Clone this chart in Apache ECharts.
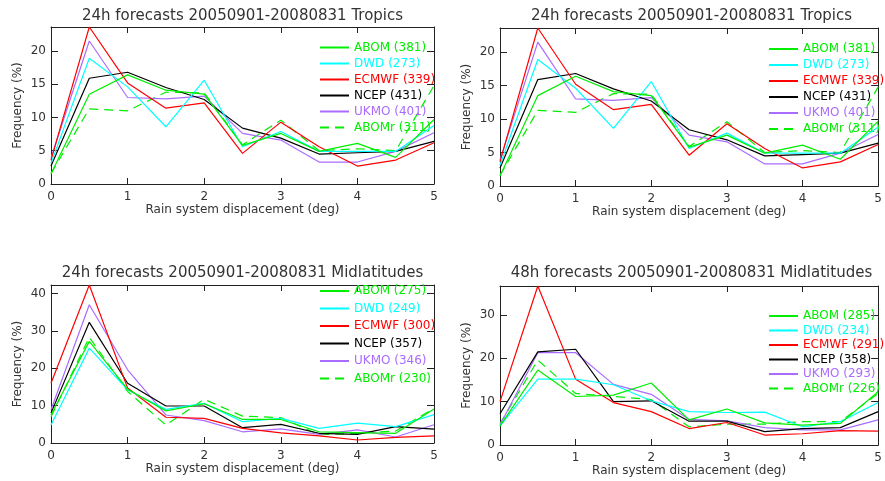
<!DOCTYPE html>
<html><head><meta charset="utf-8">
<script src="https://cdn.jsdelivr.net/npm/echarts@6/dist/echarts.min.js"></script>
<style>html,body{margin:0;padding:0;background:#fff}#c{width:885px;height:481px}</style>
</head><body><div id="c"></div>
<script>
const xs = [0, 0.5, 1, 1.5, 2, 2.5, 3, 3.5, 4, 4.5, 5];
const models = ['ABOM', 'DWD', 'ECMWF', 'NCEP', 'UKMO', 'ABOMr'];

// 24h Tropics
const trCounts = [381, 273, 339, 431, 401, 311];
const trABOM  = [1.5, 13.5, 16.4, 14.1, 13.5, 5.8, 7.6, 4.9, 6.1, 4.0, 9.7];
const trDWD   = [3.1, 18.9, 14.6, 8.6, 15.6, 5.6, 7.9, 4.9, 4.9, 4.9, 8.8];
const trECMWF = [3.6, 23.6, 15.2, 11.4, 12.2, 4.6, 9.3, 5.6, 2.7, 3.6, 6.2];
const trNCEP  = [2.7, 15.9, 16.8, 14.5, 12.7, 8.4, 6.9, 4.5, 4.7, 4.9, 6.4];
const trUKMO  = [3.9, 21.5, 13.0, 12.8, 13.2, 7.6, 6.6, 3.3, 3.3, 4.9, 7.7];
const trABOMr = [1.6, 11.3, 11.0, 13.8, 13.7, 5.9, 9.6, 5.0, 5.3, 5.0, 14.8];

// 24h Midlatitudes
const m24Counts = [275, 249, 300, 357, 346, 230];
const m24ABOM  = [7.5, 27.2, 14.4, 8.6, 10.5, 6.3, 6.3, 3.0, 2.8, 2.6, 9.1];
const m24DWD   = [4.8, 25.4, 14.2, 9.0, 10.6, 5.7, 6.6, 3.9, 5.3, 4.4, 7.6];
const m24ECMWF = [16.0, 42.3, 14.7, 6.9, 6.6, 3.9, 2.7, 1.9, 0.8, 1.5, 1.9];
const m24NCEP  = [8.0, 32.3, 16.0, 9.9, 9.9, 4.1, 5.0, 2.6, 2.3, 4.4, 3.7];
const m24UKMO  = [8.9, 37.0, 19.6, 7.5, 6.0, 3.0, 3.8, 2.3, 3.5, 1.6, 4.9];
const m24ABOMr = [7.0, 28.3, 13.8, 4.8, 11.7, 7.2, 6.8, 2.2, 2.6, 3.2, 9.3];

// 48h Midlatitudes
const m48Counts = [285, 234, 291, 358, 293, 226];
const m48ABOM  = [4.4, 17.3, 11.2, 11.5, 14.3, 5.8, 8.3, 5.1, 4.6, 5.0, 12.3];
const m48DWD   = [4.4, 15.2, 15.2, 13.9, 10.2, 7.7, 7.5, 7.6, 4.2, 5.4, 9.8];
const m48ECMWF = [10.0, 36.7, 15.2, 9.8, 7.7, 3.8, 5.2, 2.3, 2.6, 3.3, 3.2];
const m48NCEP  = [7.2, 21.5, 22.1, 10.0, 10.2, 5.5, 5.5, 3.1, 3.8, 4.0, 7.7];
const m48UKMO  = [4.6, 21.3, 21.3, 14.0, 11.7, 5.9, 5.6, 4.0, 3.5, 3.5, 5.8];
const m48ABOMr = [4.9, 19.6, 11.9, 11.2, 10.5, 4.2, 4.8, 4.8, 5.4, 5.4, 11.9];

const titles = [
  '24h forecasts 20050901-20080831 Tropics',
  '24h forecasts 20050901-20080831 Tropics',
  '24h forecasts 20050901-20080831 Midlatitudes',
  '48h forecasts 20050901-20080831 Midlatitudes'
];
const xName = 'Rain system displacement (deg)';
const yName = 'Frequency (%)';

const colors = ['#00ee00', '#00ffff', '#ff0000', '#000000', '#aa6cff', '#00ee00'];
const dashes = ['solid', 'solid', 'solid', 'solid', 'solid', [9, 6]];
const FONT = 'DejaVu Sans';
const TXT = '#333';
const AX = '#222';

const panelData = [
  {counts: trCounts, series: [trABOM, trDWD, trECMWF, trNCEP, trUKMO, trABOMr], yInt: 5},
  {counts: trCounts, series: [trABOM, trDWD, trECMWF, trNCEP, trUKMO, trABOMr], yInt: 5},
  {counts: m24Counts, series: [m24ABOM, m24DWD, m24ECMWF, m24NCEP, m24UKMO, m24ABOMr], yInt: 10},
  {counts: m48Counts, series: [m48ABOM, m48DWD, m48ECMWF, m48NCEP, m48UKMO, m48ABOMr], yInt: 10}
];

const layout = [
  {grid: {left: 51, top: 27, width: 383, height: 157}, title: [242.5, 16], legend: {left: 319, top: 41.5, gap: 4}},
  {grid: {left: 500, top: 28, width: 383, height: 158}, title: [691.5, 16.5], legend: {left: 768, top: 43, gap: 4}},
  {grid: {left: 51, top: 285, width: 383, height: 158}, title: [242.5, 273], legend: {left: 319, top: 285, gap: 5.5}},
  {grid: {left: 500, top: 286, width: 383, height: 159}, title: [691.5, 273.5], legend: {left: 768, top: 310, gap: 2.5}}
];

const option = {animation: false, backgroundColor: '#fff', grid: [], xAxis: [], yAxis: [], series: [], legend: [], graphic: []};

panelData.forEach((p, i) => {
  const L = layout[i];
  option.grid.push(Object.assign({containLabel: false}, L.grid));
  const ymax = Math.max(...p.series.map(s => Math.max(...s)));
  const axLine = {show: true, onZero: false, lineStyle: {color: AX, width: 1}};
  const lab = {fontSize: 12, color: TXT, fontFamily: FONT};
  option.xAxis.push({
    type: 'value', gridIndex: i, min: 0, max: 5, interval: 1, position: 'bottom',
    axisLine: axLine, axisTick: {inside: true, length: 6, lineStyle: {color: AX}},
    axisLabel: Object.assign({margin: 7}, lab), splitLine: {show: false},
    name: xName, nameLocation: 'middle', nameGap: 20, nameTextStyle: lab
  });
  option.xAxis.push({
    type: 'value', gridIndex: i, min: 0, max: 5, interval: 1, position: 'top',
    axisLine: axLine, axisTick: {inside: true, length: 6, lineStyle: {color: AX}},
    axisLabel: {show: false}, splitLine: {show: false}
  });
  option.yAxis.push({
    type: 'value', gridIndex: i, min: 0, max: ymax, interval: p.yInt, position: 'left',
    axisLine: axLine, axisTick: {inside: true, length: 7, lineStyle: {color: AX}},
    axisLabel: Object.assign({margin: 5, showMaxLabel: false}, lab), splitLine: {show: false},
    name: yName, nameLocation: 'middle', nameGap: 27, nameTextStyle: lab
  });
  option.yAxis.push({
    type: 'value', gridIndex: i, min: 0, max: ymax, interval: p.yInt, position: 'right',
    axisLine: axLine, axisTick: {inside: true, length: 7, lineStyle: {color: AX}},
    axisLabel: {show: false}, splitLine: {show: false}
  });
  const names = models.map((m, k) => m + ' (' + p.counts[k] + ')');
  p.series.forEach((arr, k) => {
    option.series.push({
      type: 'line', name: names[k], xAxisIndex: 2 * i, yAxisIndex: 2 * i,
      data: xs.map((x, j) => [x, arr[j]]), symbol: 'none', showSymbol: false,
      lineStyle: {color: colors[k], width: 1.2, type: dashes[k]}, itemStyle: {color: colors[k]},
      silent: true, z: 2 + (5 - k)
    });
  });
  option.legend.push({
    orient: 'vertical', left: L.legend.left, top: L.legend.top, padding: 0,
    itemWidth: 29, itemHeight: 10, itemGap: L.legend.gap, selectedMode: false,
    itemStyle: {opacity: 0, borderWidth: 0},
    textStyle: {fontSize: 12, fontFamily: FONT, lineHeight: 12},
    data: names.map((n, k) => ({name: n, textStyle: {color: colors[k]}}))
  });
  option.graphic.push({
    type: 'text', x: L.title[0], y: L.title[1],
    style: {text: titles[i], fontSize: 15, fontFamily: FONT, fill: TXT,
      align: 'center', verticalAlign: 'middle', textAlign: 'center', textVerticalAlign: 'middle'}
  });
});

const chart = echarts.init(document.getElementById('c'), null, {renderer: 'canvas'});
chart.setOption(option);
</script></body></html>
